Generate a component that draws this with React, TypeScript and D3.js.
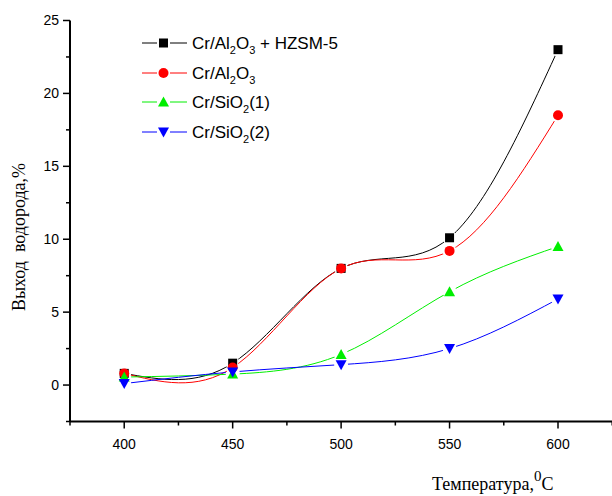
import React, { useEffect, useRef } from 'react';
import * as d3 from 'd3';

// temperatures, °C
const temps = [400, 450, 500, 550, 600];
// hydrogen yield, %
const hzsm = [0.8, 1.5, 8.0, 10.1, 23.0];
const alumina = [0.8, 1.2, 8.0, 9.2, 18.5];
const silica1 = [0.55, 0.75, 2.1, 6.4, 9.5];
const silica2 = [0.1, 0.9, 1.4, 2.5, 5.9];

const xTicks = [400, 450, 500, 550, 600];
const yTicks = [0, 5, 10, 15, 20, 25];

const series = [
  { key: 'hzsm', values: hzsm, color: '#000000', marker: 'square' },
  { key: 'al', values: alumina, color: '#ff0000', marker: 'circle' },
  { key: 'si1', values: silica1, color: '#00ee00', marker: 'up' },
  { key: 'si2', values: silica2, color: '#0000ff', marker: 'down' },
];

const W = 612;
const H = 496;

const App = () => {
  const ref = useRef<SVGSVGElement>(null);

  useEffect(() => {
    const svg = d3.select(ref.current);
    svg.selectAll('*').remove();

    const x = d3.scaleLinear().domain([375, 600]).range([70, 558]);
    const y = d3.scaleLinear().domain([-2.5, 25]).range([421.5, 20.5]);

    const drawMarker = (g: any, type: string, cx: number, cy: number, color: string) => {
      if (type === 'square') {
        g.append('rect').attr('x', cx - 4.5).attr('y', cy - 4.5).attr('width', 9).attr('height', 9).attr('fill', color);
      } else if (type === 'circle') {
        g.append('circle').attr('cx', cx).attr('cy', cy).attr('r', 5).attr('fill', color);
      } else {
        const s = type === 'up' ? -1 : 1;
        const p = d3.path();
        p.moveTo(cx - 5.5, cy - s * 4.5);
        p.lineTo(cx + 5.5, cy - s * 4.5);
        p.lineTo(cx, cy + s * 5.5);
        p.closePath();
        g.append('path').attr('d', p.toString()).attr('fill', color);
      }
    };

    const defs = svg.append('defs');

    // curves, broken around the markers
    series.forEach(s => {
      const mask = defs.append('mask').attr('id', 'm-' + s.key).attr('maskUnits', 'userSpaceOnUse');
      mask.append('rect').attr('x', 0).attr('y', 0).attr('width', W).attr('height', H).attr('fill', 'white');
      temps.forEach((t, i) => {
        mask.append('circle').attr('cx', x(t)).attr('cy', y(s.values[i])).attr('r', 7).attr('fill', 'black');
      });
      const line = d3.line<number>()
        .x((d, i) => x(temps[i]))
        .y(d => y(d))
        .curve(d3.curveNatural);
      svg.append('path')
        .attr('d', line(s.values))
        .attr('fill', 'none')
        .attr('stroke', s.color)
        .attr('stroke-width', 1)
        .attr('mask', `url(#m-${s.key})`);
    });

    series.forEach(s => {
      const g = svg.append('g');
      temps.forEach((t, i) => drawMarker(g, s.marker, x(t), y(s.values[i]), s.color));
    });

    // axes
    const axisFont = "'Liberation Sans', Arial, sans-serif";
    const yAxis = svg.append('g').attr('transform', `translate(${x(375)},0)`);
    yAxis.append('line').attr('y1', y(25)).attr('y2', y(-2.5)).attr('stroke', '#000').attr('stroke-width', 2);
    d3.range(-2.5, 25.1, 2.5).forEach(v => {
      const major = v % 5 === 0;
      yAxis.append('line').attr('x1', 0).attr('x2', major ? -7 : -4)
        .attr('y1', y(v)).attr('y2', y(v)).attr('stroke', '#000').attr('stroke-width', 1.5);
    });
    yTicks.forEach(v => {
      yAxis.append('text').attr('x', -11).attr('y', y(v)).attr('dy', '0.35em')
        .attr('text-anchor', 'end').attr('font-family', axisFont).attr('font-size', 14).text(v);
    });

    const xAxis = svg.append('g').attr('transform', `translate(0,${y(-2.5)})`);
    xAxis.append('line').attr('x1', x(375)).attr('x2', W).attr('stroke', '#000').attr('stroke-width', 2);
    d3.range(375, 626, 25).forEach(v => {
      const major = v % 50 === 0;
      xAxis.append('line').attr('x1', x(v)).attr('x2', x(v)).attr('y1', 0).attr('y2', major ? 7 : 4)
        .attr('stroke', '#000').attr('stroke-width', 1.5);
    });
    xTicks.forEach(v => {
      xAxis.append('text').attr('x', x(v)).attr('y', 27)
        .attr('text-anchor', 'middle').attr('font-family', axisFont).attr('font-size', 14).text(v);
    });

    // axis titles
    const serif = "'Liberation Serif', 'Times New Roman', serif";
    svg.append('text')
      .attr('transform', `translate(25,237) rotate(-90)`)
      .attr('text-anchor', 'middle')
      .attr('font-family', serif).attr('font-size', 18)
      .attr('xml:space', 'preserve')
      .style('white-space', 'pre')
      .text('Выход  водорода,%');
    const xt = svg.append('text').attr('x', 432).attr('y', 490)
      .attr('font-family', serif).attr('font-size', 18);
    xt.append('tspan').text('Температура,');
    xt.append('tspan').attr('dy', -9).attr('font-size', 15).text('0');
    xt.append('tspan').attr('dy', 9).text('C');

    // legend
    const legendRows = [
      { parts: [['Cr/Al', 0], ['2', 1], ['O', 0], ['3', 1], [' + HZSM-5', 0]] },
      { parts: [['Cr/Al', 0], ['2', 1], ['O', 0], ['3', 1]] },
      { parts: [['Cr/SiO', 0], ['2', 1], ['(1)', 0]] },
      { parts: [['Cr/SiO', 0], ['2', 1], ['(2)', 0]] },
    ];
    const rowY = [43, 73, 102, 132];
    series.forEach((s, i) => {
      const g = svg.append('g');
      const ly = rowY[i];
      g.append('line').attr('x1', 142).attr('x2', 157).attr('y1', ly).attr('y2', ly).attr('stroke', s.color).attr('stroke-width', 1);
      g.append('line').attr('x1', 170).attr('x2', 187).attr('y1', ly).attr('y2', ly).attr('stroke', s.color).attr('stroke-width', 1);
      drawMarker(g, s.marker, 163.5, ly, s.color);
      const t = g.append('text').attr('x', 192).attr('y', ly + 6)
        .attr('font-family', axisFont).attr('font-size', 17)
        .attr('xml:space', 'preserve').style('white-space', 'pre');
      let sub = false;
      legendRows[i].parts.forEach(([str, isSub]) => {
        const ts = t.append('tspan').text(str as string);
        if (isSub && !sub) { ts.attr('dy', 5).attr('font-size', 11); sub = true; }
        else if (isSub) { ts.attr('font-size', 11); }
        else if (sub) { ts.attr('dy', -5); sub = false; }
      });
    });
  }, []);

  return (
    <svg ref={ref} width={W} height={H}
      style={{ position: 'absolute', left: 0, top: 0, background: '#fff' }} />
  );
};

export default App;
